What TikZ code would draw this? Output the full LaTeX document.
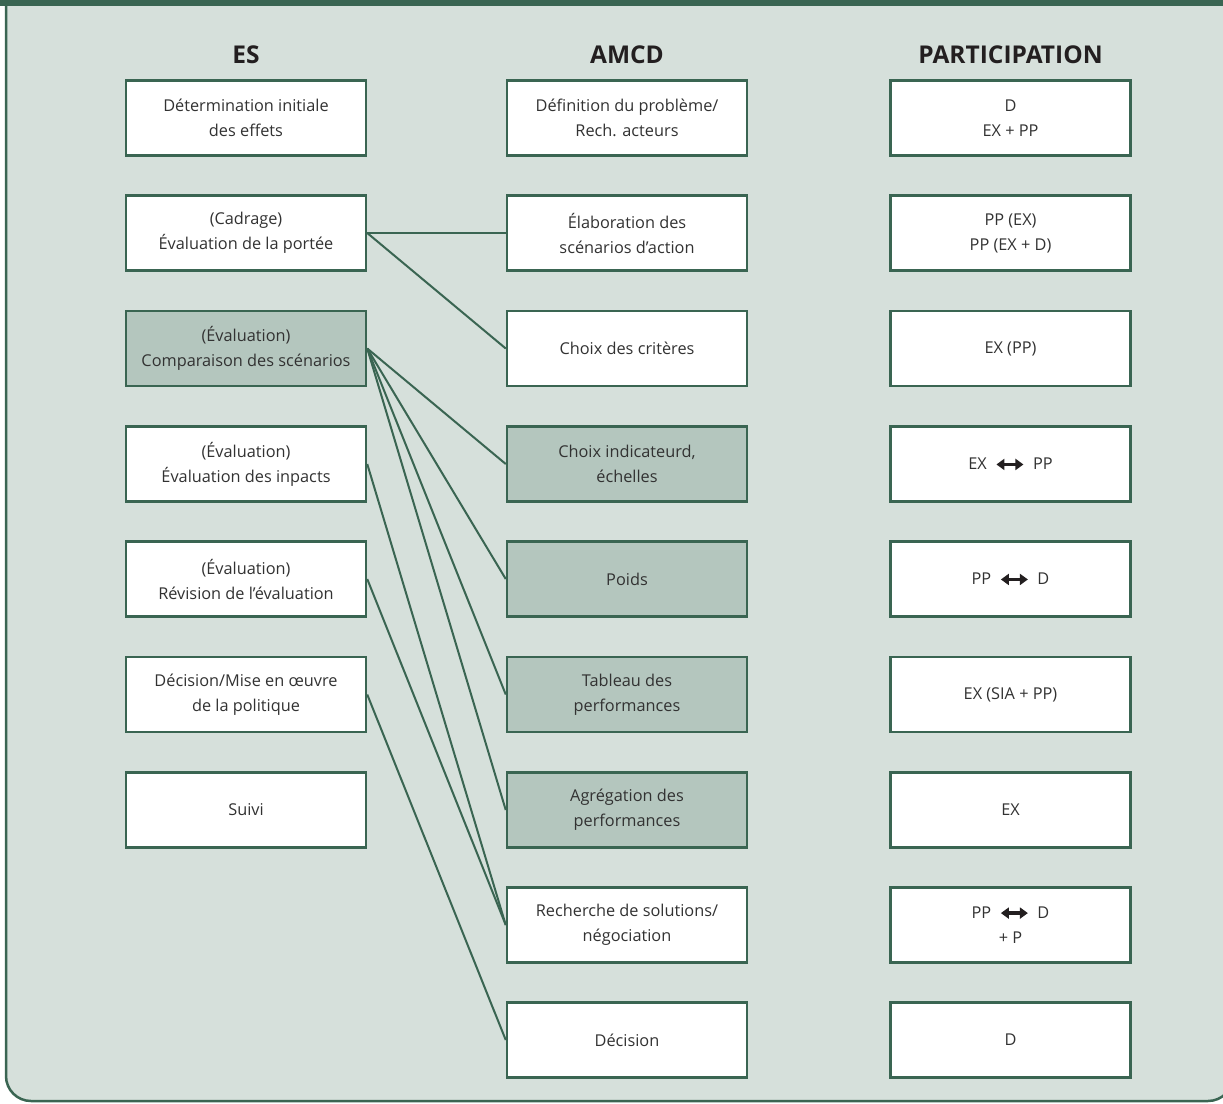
\documentclass[tikz,border=0pt]{standalone}
\usepackage{fontspec}
\setmainfont{Open Sans}
\usetikzlibrary{arrows.meta}

\definecolor{dkgreen}{RGB}{58,101,82}
\definecolor{panelbg}{RGB}{214,224,219}
\definecolor{shadefill}{RGB}{180,198,190}
\definecolor{ink}{RGB}{50,50,50}
\definecolor{headink}{RGB}{35,31,32}

% bold two-headed arrow used inside the participation boxes
\newcommand{\twoway}{\hspace{8pt}\tikz[baseline=-0.6ex]\draw[headink,line width=3.2pt,
  {Triangle[length=8pt,width=11pt]}-{Triangle[length=8pt,width=11pt]}] (0pt,0pt)--(27pt,0pt);\hspace{8pt}}

\tikzset{
  stagebox/.style={draw=dkgreen, line width=2.5pt, fill=white, text=ink,
    minimum width=240pt, minimum height=75pt, inner sep=0pt, align=center,
    font=\fontsize{16.3}{25}\selectfont},
  shaded/.style={stagebox, fill=shadefill},
  coltitle/.style={anchor=base, text=headink, font=\fontsize{24.5}{28}\selectfont\bfseries},
  link/.style={draw=dkgreen, line width=2pt}
}

\begin{document}
\begin{tikzpicture}[x=1pt, y=-1pt]
\useasboundingbox (0,0) rectangle (1223,1103);
\fill[white] (0,0) rectangle (1223,1103);

% panel with rounded lower corners and top band
\path[fill=panelbg, draw=dkgreen, line width=2.5pt, rounded corners=25pt]
  (6,-20) -- (6,1101) -- (1233,1101) -- (1233,-20);
\fill[dkgreen] (0,0) rectangle (1223,6);

% column headings
\node[coltitle] (tes) at (246,63) {ES};
\node[coltitle] (tam) at (627,63) {AMCD};
\node[coltitle] (tpa) at (1010.5,63) {PARTICIPATION};

% ES column
\node[stagebox] (es1) at (246,118)   {Détermination initiale\\des effets};
\node[stagebox] (es2) at (246,233)   {(Cadrage)\\Évaluation de la portée};
\node[shaded]   (es3) at (246,348.5) {(Évaluation)\\Comparaison des scénarios};
\node[stagebox] (es4) at (246,464)   {(Évaluation)\\Évaluation des inpacts};
\node[stagebox] (es5) at (246,579)   {(Évaluation)\\Révision de l’évaluation};
\node[stagebox] (es6) at (246,694.5) {Décision/Mise en œuvre\\de la politique};
\node[stagebox] (es7) at (246,810)   {Suivi};

% AMCD column
\node[stagebox] (am1) at (627,118)    {Définition du problème/\\Rech. acteurs};
\node[stagebox] (am2) at (627,233)    {Élaboration des\\scénarios d’action};
\node[stagebox] (am3) at (627,348.5)  {Choix des critères};
\node[shaded]   (am4) at (627,464)    {Choix indicateurd,\\échelles};
\node[shaded]   (am5) at (627,579)    {Poids};
\node[shaded]   (am6) at (627,694.5)  {Tableau des\\performances};
\node[shaded]   (am7) at (627,810)    {Agrégation des\\performances};
\node[stagebox] (am8) at (627,925)    {Recherche de solutions/\\négociation};
\node[stagebox] (am9) at (627,1040)   {Décision};

% participation column
\node[stagebox] (pa1) at (1010.5,118)   {D\\EX + PP};
\node[stagebox] (pa2) at (1010.5,233)   {PP (EX)\\PP (EX + D)};
\node[stagebox] (pa3) at (1010.5,348.5) {EX (PP)};
\node[stagebox] (pa4) at (1010.5,464)   {EX\twoway PP};
\node[stagebox] (pa5) at (1010.5,579)   {PP\twoway D};
\node[stagebox] (pa6) at (1010.5,694.5) {EX (SIA + PP)};
\node[stagebox] (pa7) at (1010.5,810)   {EX};
\node[stagebox] (pa8) at (1010.5,925)   {PP\twoway D\\+ P};
\node[stagebox] (pa9) at (1010.5,1040)  {D};

% links between ES stages and AMCD steps
\draw[link] (es2.east) -- (am2.west);
\draw[link] (es2.east) -- (am3.west);
\draw[link] (es3.east) -- (am4.west);
\draw[link] (es3.east) -- (am5.west);
\draw[link] (es3.east) -- (am6.west);
\draw[link] (es3.east) -- (am7.west);
\draw[link] (es4.east) -- (am8.west);
\draw[link] (es5.east) -- (am8.west);
\draw[link] (es6.east) -- (am9.west);
\end{tikzpicture}
\end{document}
